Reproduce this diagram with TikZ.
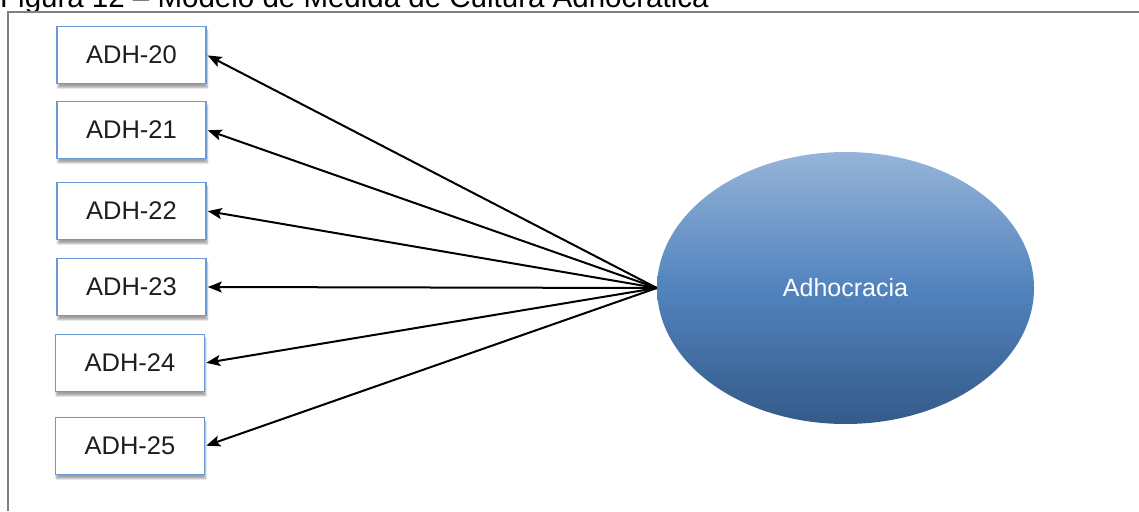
\documentclass[tikz,border=0pt]{standalone}
\usepackage{fontspec}
\setmainfont{Liberation Sans}
\usetikzlibrary{arrows.meta,shapes.geometric,shadows.blur}
\definecolor{framegray}{RGB}{128,128,128}
\definecolor{boxblue}{RGB}{108,153,212}
\definecolor{ellTop}{RGB}{150,180,216}
\definecolor{ellMid}{RGB}{82,131,190}
\definecolor{ellBot}{RGB}{52,90,137}
\definecolor{txtgray}{RGB}{30,30,30}
\tikzset{
  indicator/.style={draw=boxblue, line width=1.6pt, fill=white,
    minimum width=149pt, minimum height=57pt, inner sep=0pt,
    font=\fontsize{25.5}{30}\selectfont, text=txtgray,
    blur shadow={shadow xshift=1pt, shadow yshift=-4pt,
      shadow blur steps=6, shadow opacity=38}},
  construct/.style={ellipse, minimum width=377pt, minimum height=272pt,
    inner sep=0pt, top color=ellTop, bottom color=ellBot, middle color=ellMid,
    text=white, font=\fontsize{25}{30}\selectfont},
  loading/.style={line width=2pt, black,
    -{Stealth[length=14pt,width=11pt,inset=3pt]}, shorten >=1pt},
}
\begin{document}
\begin{tikzpicture}[x=1pt, y=-1pt]
  \useasboundingbox (0,0) rectangle (1139,511);
  % caption, running past the top edge
  \node[anchor=base west, inner sep=0pt, font=\fontsize{29.5}{34}\selectfont]
    (caption) at (0,7.5) {Figura 12 – Modelo de Medida de Cultura Adhocrática};
  % frame
  \draw[framegray, line width=1.8pt] (8,511) -- (8,12) -- (1139,12);
  % indicator boxes
  \node[indicator] (a20) at (131.5,55)  {ADH-20};
  \node[indicator] (a21) at (131.5,130) {ADH-21};
  \node[indicator] (a22) at (131.5,211) {ADH-22};
  \node[indicator] (a23) at (131.5,287) {ADH-23};
  \node[indicator] (a24) at (130,363)   {ADH-24};
  \node[indicator] (a25) at (130,446)   {ADH-25};
  % latent construct
  \node[construct] (adh) at (845.5,288) {Adhocracia};
  % loadings
  \foreach \n in {a20,a21,a22,a23,a24,a25}
    \draw[loading] (adh.west) -- (\n.east);
\end{tikzpicture}
\end{document}
